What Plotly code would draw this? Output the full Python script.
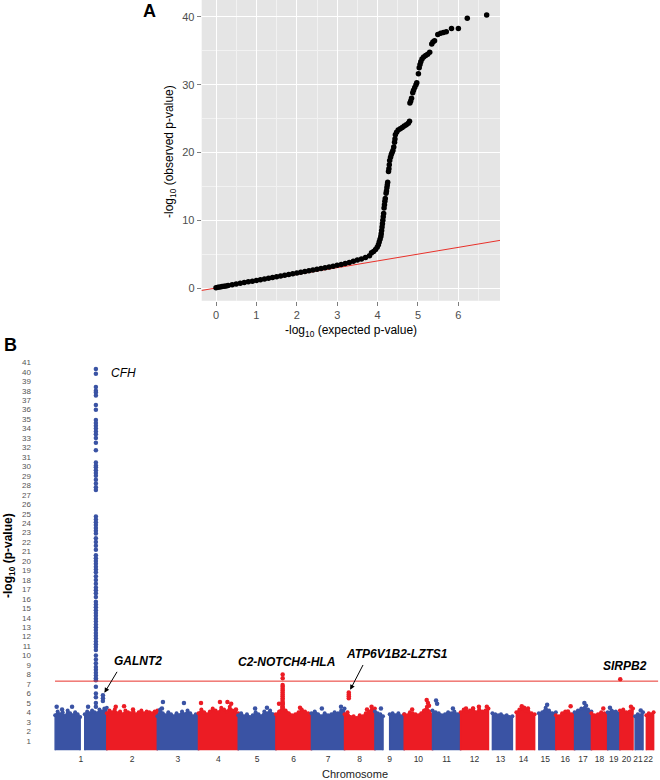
import plotly.graph_objects as go

# ---------------- Panel A: QQ plot data ----------------
QQ_EXPECTED = [0.00, 0.05, 0.10, 0.15, 0.20, 0.25, 0.30, 0.40, 0.50, 0.60, 0.70, 0.80, 0.90,
               1.00, 1.10, 1.20, 1.30, 1.40, 1.50, 1.60, 1.70, 1.80, 1.90, 2.00, 2.10, 2.20,
               2.30, 2.40, 2.50, 2.60, 2.70, 2.80, 2.90, 3.00, 3.10, 3.20, 3.30, 3.40, 3.50,
               3.60, 3.70, 3.80, 3.85, 3.90, 3.95, 3.99, 4.02, 4.04, 4.06, 4.08, 4.09, 4.10,
               4.11, 4.12, 4.13, 4.14, 4.15, 4.16, 4.17, 4.18, 4.19, 4.21, 4.22, 4.23, 4.24,
               4.25, 4.27, 4.28, 4.29, 4.30, 4.32, 4.34, 4.36, 4.38, 4.40, 4.42, 4.43, 4.44,
               4.47, 4.51, 4.56, 4.61, 4.66, 4.71, 4.76, 4.79, 4.80, 4.82, 4.84, 4.87, 4.89,
               4.92, 4.95, 4.97, 5.01, 5.03, 5.05, 5.07, 5.10, 5.14, 5.19, 5.24, 5.29, 5.34,
               5.37, 5.41, 5.49, 5.56, 5.63, 5.70, 5.83, 6.00, 6.22, 6.70]
QQ_OBSERVED = [0.05, 0.10, 0.16, 0.21, 0.26, 0.31, 0.37, 0.47, 0.58, 0.69, 0.80, 0.91, 1.01,
               1.12, 1.23, 1.34, 1.45, 1.56, 1.67, 1.78, 1.88, 1.99, 2.10, 2.21, 2.32, 2.43,
               2.54, 2.66, 2.77, 2.88, 3.00, 3.11, 3.23, 3.35, 3.48, 3.62, 3.78, 3.95, 4.12,
               4.30, 4.50, 4.75, 5.20, 5.40, 5.70, 6.00, 6.40, 6.80, 7.20, 7.60, 8.00, 8.50,
               9.00, 9.50, 10.0, 10.5, 11.0, 11.8, 12.3, 12.8, 13.2, 14.0, 14.3, 14.8, 15.2,
               15.6, 17.2, 17.6, 18.2, 18.8, 19.3, 19.7, 20.0, 20.3, 20.8, 21.5, 22.0, 22.6,
               23.0, 23.3, 23.5, 23.7, 23.9, 24.1, 24.3, 24.6, 27.3, 27.6, 28.0, 28.8, 29.2,
               29.6, 30.0, 30.3, 31.6, 32.5, 33.0, 33.4, 33.8, 34.1, 34.3, 34.5, 34.8, 36.0,
               36.3, 36.5, 37.4, 37.6, 37.7, 37.8, 38.3, 38.3, 39.8, 40.3]
QQ_X_TICKS = [0, 1, 2, 3, 4, 5, 6]
QQ_Y_TICKS = [0, 10, 20, 30, 40]

# ---------------- Panel B: Manhattan plot data ----------------
CHROM_NAMES = [str(i) for i in range(1, 23)]
CHROM_LEN_MB = [249, 243, 198, 191, 181, 171, 159, 146, 141, 136, 135, 134,
                115, 107, 102, 90, 81, 78, 59, 63, 48, 51]

# upper outline of the dense cloud of SNPs, per chromosome segment
ENV_CHROM = [1, 1, 2, 3, 4, 5, 6, 7, 8, 9, 9, 10, 11, 12, 13, 14, 15, 16, 17, 18, 19, 20, 21, 22]
ENV_START_MB = [0.8, 143, 0, 0, 0, 0, 0, 0, 0, 0.2, 71, 0, 0, 0, 19, 19, 20, 0, 0, 0, 0, 0, 10, 16]
ENV_END_MB = [121, 249, 243, 198, 191, 181, 171, 159, 146, 39, 141, 136, 135, 134,
              115, 107, 102, 90, 81, 78, 59, 63, 48, 51]
ENV_LOGP = [
    [3.7, 4.1, 3.8, 4.0, 3.6, 4.2, 3.9, 3.7, 4.0, 3.8, 3.5],
    [3.8, 4.1, 3.9, 4.2, 4.0, 3.9, 4.3, 4.1, 4.4, 4.5],
    [3.9, 4.2, 4.0, 4.3, 3.9, 4.1, 3.8, 4.2, 4.0, 3.9, 4.1, 3.8, 4.0, 4.2, 3.9, 4.1, 4.0, 3.9, 4.1, 4.2],
    [3.6, 4.3, 3.9, 3.7, 4.0, 3.8, 3.6, 3.9, 3.7, 4.1, 3.8, 4.2, 3.9, 3.6, 3.8, 3.7],
    [3.9, 4.3, 4.0, 3.8, 4.1, 4.4, 4.2, 4.0, 4.5, 4.3, 4.1, 4.6, 4.2, 4.0, 3.9],
    [3.7, 3.9, 3.6, 3.8, 3.5, 3.7, 4.0, 3.8, 3.6, 4.1, 3.9, 4.2, 3.8, 3.7],
    [3.8, 4.1, 4.6, 4.2, 3.9, 3.7, 3.8, 4.0, 4.3, 4.1, 3.9, 3.8],
    [3.9, 4.1, 3.8, 3.6, 3.9, 3.7, 3.8, 4.0, 3.9, 4.2, 4.4],
    [3.8, 4.0, 3.5, 3.6, 3.4, 3.7, 3.6, 3.9, 4.1, 4.3, 4.4],
    [4.1, 3.9, 3.8, 3.6],
    [3.8, 3.9, 3.7, 3.9, 3.6, 3.8],
    [3.8, 3.7, 4.0, 3.9, 3.8, 3.7, 3.9, 4.2, 4.6, 4.1, 3.7],
    [4.2, 4.0, 3.9, 3.7, 3.8, 4.0, 3.9, 4.1, 3.8, 3.9],
    [4.0, 4.3, 4.1, 4.2, 4.4, 4.0, 4.3, 4.1, 4.2, 4.4],
    [3.9, 3.8, 3.7, 3.8, 3.6, 3.7, 3.5, 3.6],
    [4.0, 4.3, 4.4, 4.2, 4.1, 3.9, 3.8],
    [3.9, 4.0, 4.5, 4.2, 3.9, 4.0],
    [3.7, 3.6, 3.9, 4.1, 4.0, 3.8, 3.9],
    [4.0, 4.2, 4.4, 4.5, 4.3, 4.1],
    [3.9, 3.7, 3.8, 4.0, 3.9, 3.8],
    [4.0, 4.2, 4.1, 3.9],
    [4.2, 4.3, 4.0, 4.1, 4.4],
    [3.6, 3.8, 3.7, 4.0],
    [3.7, 3.9, 3.8, 4.0],
]

# individual SNPs standing out above the cloud
SNP_CHROM = ([1] * 84 + [1] * 3 + [1] * 4 + [2] * 3 + [3] * 3 + [4] * 5 + [5] * 2 +
             [6] * 17 + [6] * 2 + [7] * 2 + [8] * 4 + [8] * 2 + [9] +
             [10] * 4 + [11] * 3 + [12] * 4 + [14] * 3 + [15] + [16] * 2 + [17] * 2 +
             [18] + [19] + [20] + [20] * 2 + [21])
SNP_POS_MB = ([196.6] * 84 + [230.4, 230.6, 230.2] + [8, 82, 159, 34] + [43, 83, 126] +
              [27, 128, 22] + [12, 103, 139, 157, 180] + [81, 138] +
              [32.6, 32.6, 32.3, 32.5, 32.4, 32.6, 32.2, 32.5, 32.3, 32.6, 32.1, 32.4,
               31.8, 32.8, 31.5, 33.2, 32.0] + [116, 15] + [50, 142] +
              [20.5, 20.5, 20.6, 20.4] + [130, 108] + [29] + [108, 114, 119, 38] +
              [17, 22, 98] + [60, 88, 126, 26] + [45, 56, 75] + [60] + [71, 58] +
              [47, 55] + [57] + [11] + [1.5] + [53, 53] + [37])
SNP_LOGP = ([40.3, 39.8, 38.4, 38.0, 37.8, 37.5, 36.5, 36.0, 34.9, 34.6, 34.3, 34.0,
             33.7, 33.4, 33.0, 32.5, 31.7, 30.4, 30.1, 29.9, 29.6, 29.3, 29.0, 28.6,
             28.2, 27.8, 27.5, 24.7, 24.4, 24.1, 23.8, 23.5, 23.2, 22.9, 22.4, 22.0,
             21.6, 21.2, 20.6, 20.3, 20.0, 19.7, 19.4, 19.1, 18.8, 18.4, 18.0, 17.6,
             17.2, 16.9, 16.6, 16.2, 15.7, 15.4, 15.1, 14.8, 14.5, 14.2, 13.9, 13.6,
             13.3, 13.0, 12.7, 12.4, 12.1, 11.8, 11.5, 11.2, 10.9, 10.6, 10.0, 9.6,
             9.2, 8.8, 8.5, 8.2, 7.9, 7.6, 7.4, 6.7, 6.0, 5.6, 5.0, 4.6] +
            [5.8, 5.5, 5.2] + [4.6, 4.6, 4.6, 4.3] + [4.6, 4.65, 4.3] + [5.1, 5.0, 4.4] +
            [5.0, 5.1, 5.1, 4.9, 4.3] + [4.4, 4.5] +
            [8.0, 7.6, 6.9, 6.7, 6.5, 6.3, 6.1, 5.9, 5.7, 5.5, 5.3, 5.1, 4.9, 4.8, 4.6, 4.5, 5.0] +
            [4.5, 4.9] + [4.4, 4.6] + [6.1, 5.9, 5.7, 5.5] + [4.6, 4.3] + [4.4] +
            [5.3, 5.0, 4.7, 4.3] + [5.25, 4.9, 4.4] + [4.4, 4.6, 4.6, 4.4] +
            [4.65, 4.5, 4.4] + [4.8] + [4.65, 4.1] + [5.0, 4.7] + [4.4] + [4.5] + [7.5] +
            [4.6, 4.1] + [4.2])

GWS_LOGP = 7.3
Y2_TICKS = list(range(1, 42))

GENE_NAMES = ["CFH", "GALNT2", "C2-NOTCH4-HLA", "ATP6V1B2-LZTS1", "SIRPB2"]
GENE_CHROM = [1, 1, 6, 8, 20]
GENE_POS_MB = [196.6, 230.4, 32.6, 20.5, 1.5]
GENE_LOGP = [40.3, 5.8, 8.0, 6.1, 7.5]

BLUE = "#3A53A4"
RED = "#EC1C24"
FONT = "Liberation Sans, Arial, sans-serif"

W, H = 660, 780

# cumulative chromosome offsets
chrom_start = []
acc = 0
for L in CHROM_LEN_MB:
    chrom_start.append(acc)
    acc += L
genome_len = acc
chrom_center = [s + L / 2 for s, L in zip(chrom_start, CHROM_LEN_MB)]


def col(ch):
    return BLUE if ch % 2 == 1 else RED


def px_x(p):
    return p / W


def px_y(p):
    return 1 - p / H


fig = go.Figure()

# ---------- QQ ----------
fig.add_trace(go.Scatter(x=[-1, 8], y=[-1, 8], mode="lines",
                         line=dict(color="#E8312A", width=1), xaxis="x", yaxis="y",
                         hoverinfo="skip"))
fig.add_trace(go.Scatter(x=QQ_EXPECTED, y=QQ_OBSERVED, mode="markers",
                         marker=dict(color="black", size=5.5), xaxis="x", yaxis="y"))

# ---------- Manhattan ----------
for ch, s, e, hs in zip(ENV_CHROM, ENV_START_MB, ENV_END_MB, ENV_LOGP):
    n = len(hs)
    off = chrom_start[ch - 1]
    xs = [off + s + (e - s) * i / (n - 1) for i in range(n)]
    c = col(ch)
    fig.add_trace(go.Scatter(x=[xs[0]] + xs + [xs[-1]], y=[0] + hs + [0], mode="lines",
                             fill="toself", fillcolor=c, line=dict(color=c, width=1.5),
                             xaxis="x2", yaxis="y2", hoverinfo="skip"))
    fig.add_trace(go.Scatter(x=xs, y=hs, mode="markers", marker=dict(color=c, size=4),
                             xaxis="x2", yaxis="y2", hoverinfo="skip"))

snp_x = [chrom_start[c - 1] + p for c, p in zip(SNP_CHROM, SNP_POS_MB)]
fig.add_trace(go.Scatter(x=snp_x, y=SNP_LOGP, mode="markers",
                         marker=dict(color=[col(c) for c in SNP_CHROM], size=4.5),
                         xaxis="x2", yaxis="y2", cliponaxis=False))

fig.add_shape(type="line", xref="x2", yref="y2", x0=0, x1=genome_len * 1.0075,
              y0=GWS_LOGP, y1=GWS_LOGP, line=dict(color="#E8312A", width=1))

# QQ panel background
fig.add_shape(type="rect", xref="x domain", yref="y domain", x0=0, x1=1, y0=0, y1=1,
              fillcolor="#E5E5E5", line=dict(width=0), layer="below")


def paper_text(px, py, text, size, color="black", angle=0):
    return dict(x=px_x(px), y=px_y(py), xref="paper", yref="paper", text=text,
                showarrow=False, textangle=angle, xanchor="center", yanchor="middle",
                font=dict(size=size, color=color, family=FONT))


ann = [
    paper_text(149, 11, "<b>A</b>", 18),
    paper_text(10, 345, "<b>B</b>", 18),
    paper_text(170, 152, "-log<sub>10</sub> (observed p-value)", 12, angle=-90),
    paper_text(351, 331, "-log<sub>10</sub> (expected p-value)", 12),
    paper_text(9, 556, "<b>-log<sub>10</sub> (p-value)</b>", 12, angle=-90),
    paper_text(355, 774, "Chromosome", 11, color="#222222"),
]

# gene labels
gx = [chrom_start[c - 1] + p for c, p in zip(GENE_CHROM, GENE_POS_MB)]
label_style = [  # xshift, yshift, xanchor, bold
    (13, -4, "left", False),
    (35, 34, "center", True),
    (4, 13, "center", True),
    (48, 38, "center", True),
    (5, 13, "center", True),
]
for name, x, y, (xs_, ys_, xa, bold) in zip(GENE_NAMES, gx, GENE_LOGP, label_style):
    t = f"<i>{name}</i>"
    if bold:
        t = f"<b>{t}</b>"
    ann.append(dict(x=x, y=y, xref="x2", yref="y2", text=t, showarrow=False,
                    xshift=xs_, yshift=ys_, xanchor=xa, yanchor="middle",
                    font=dict(size=12, color="black", family=FONT)))
# arrows for GALNT2 and ATP6V1B2-LZTS1
for i, (axp, ayp) in [(1, (15, -25)), (3, (15, -29))]:
    ann.append(dict(x=gx[i], y=GENE_LOGP[i], xref="x2", yref="y2", text="",
                    showarrow=True, ax=axp, ay=ayp, arrowhead=2, arrowsize=1,
                    arrowwidth=1, arrowcolor="black", standoff=3))

fig.update_layout(
    width=W, height=H, margin=dict(l=0, r=0, t=0, b=0),
    paper_bgcolor="white", plot_bgcolor="rgba(0,0,0,0)", showlegend=False,
    annotations=ann,
    xaxis=dict(domain=[px_x(201.7), px_x(500)], range=[-0.354, 7.03], anchor="y",
               tickvals=QQ_X_TICKS, showgrid=True, gridcolor="white", gridwidth=1.2,
               zeroline=False, showline=False, ticks="outside", ticklen=4,
               tickcolor="#7F7F7F", tickfont=dict(size=11, color="#4D4D4D", family=FONT),
               minor=dict(tickvals=[0.5, 1.5, 2.5, 3.5, 4.5, 5.5, 6.5], showgrid=True,
                          gridcolor="#F2F2F2", gridwidth=0.6, ticks="")),
    yaxis=dict(domain=[px_y(300.7), 1], range=[-1.87, 42.5], anchor="x",
               tickvals=QQ_Y_TICKS, showgrid=True, gridcolor="white", gridwidth=1.2,
               zeroline=False, showline=False, ticks="outside", ticklen=4,
               tickcolor="#7F7F7F", tickfont=dict(size=11, color="#4D4D4D", family=FONT),
               minor=dict(tickvals=[5, 15, 25, 35], showgrid=True,
                          gridcolor="#F2F2F2", gridwidth=0.6, ticks="")),
    xaxis2=dict(domain=[px_x(32), 1], range=[(32 - 55) / 0.208, (660 - 55) / 0.208],
                anchor="y2", tickvals=chrom_center, ticktext=CHROM_NAMES, tickangle=0,
                showgrid=False, zeroline=False, showline=False, ticks="",
                tickfont=dict(size=8.5, color="#333333", family=FONT)),
    yaxis2=dict(domain=[px_y(752.5), px_y(340)],
                range=[(750.2 - 752.5) / 9.46, (750.2 - 340) / 9.46],
                anchor="x2", tickvals=Y2_TICKS, showgrid=False, zeroline=False,
                showline=False, ticks="", tickfont=dict(size=8, color="#555555", family=FONT)),
)

fig.write_html("out.html", config={"displayModeBar": False},
               post_script="document.body.style.margin='0px';document.body.style.overflow='hidden';")
